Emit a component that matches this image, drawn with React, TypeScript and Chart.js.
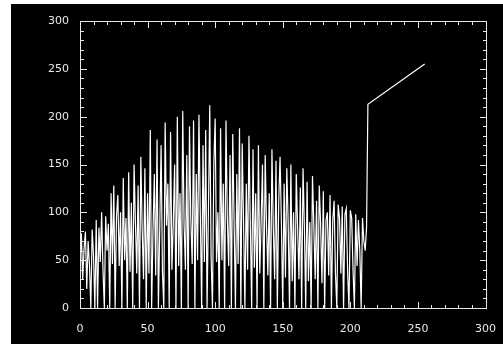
import React, { useEffect, useRef } from "react";
import { Chart, registerables } from "chart.js";

Chart.register(...registerables);

// sample index (x) and value (y) of the plotted signal
const xValues: number[] = [
  0, 1, 2, 3, 4, 5, 6, 7, 8, 9, 10, 11,
  12, 13, 14, 15, 16, 17, 18, 19, 20, 21, 22, 23, 24, 25, 26, 27, 28, 29, 30, 31,
  32, 33, 34, 35, 36, 37, 38, 39, 40, 41, 42, 43, 44, 45, 46, 47, 48, 49, 50, 51,
  52, 53, 54, 55, 56, 57, 58, 59, 60, 61, 62, 63, 64, 65, 66, 67, 68, 69, 70, 71,
  72, 73, 74, 75, 76, 77, 78, 79, 80, 81, 82, 83, 84, 85, 86, 87, 88, 89, 90, 91,
  92, 93, 94, 95, 96, 97, 98, 99, 100, 101, 102, 103, 104, 105, 106, 107, 108, 109, 110, 111,
  112, 113, 114, 115, 116, 117, 118, 119, 120, 121, 122, 123, 124, 125, 126, 127, 128, 129, 130, 131,
  132, 133, 134, 135, 136, 137, 138, 139, 140, 141, 142, 143, 144, 145, 146, 147, 148, 149, 150, 151,
  152, 153, 154, 155, 156, 157, 158, 159, 160, 161, 162, 163, 164, 165, 166, 167, 168, 169, 170, 171,
  172, 173, 174, 175, 176, 177, 178, 179, 180, 181, 182, 183, 184, 185, 186, 187, 188, 189, 190, 191,
  192, 193, 194, 195, 196, 197, 198, 199, 200, 201, 202, 203, 204, 205, 206, 207, 208, 209, 210, 211,
  212, 213, 255,
];

const yValues: number[] = [
  50, 78, 30, 62, 80, 20, 70, 45, 0, 82, 55, 0,
  92, 0, 84, 48, 100, 40, 0, 96, 60, 88, 0, 120,
  46, 128, 0, 96, 118, 44, 100, 0, 136, 50, 94, 0,
  142, 38, 110, 0, 150, 90, 36, 128, 0, 158, 82, 30,
  146, 0, 120, 36, 186, 0, 80, 140, 34, 176, 0, 84,
  170, 38, 0, 194, 86, 130, 0, 184, 40, 88, 150, 0,
  200, 44, 120, 0, 206, 88, 40, 160, 0, 190, 92, 46,
  196, 0, 140, 50, 202, 98, 0, 170, 48, 186, 0, 100,
  212, 52, 0, 150, 198, 48, 100, 0, 188, 50, 130, 0,
  196, 94, 44, 160, 0, 182, 92, 0, 140, 46, 188, 0,
  172, 90, 0, 130, 40, 180, 88, 0, 166, 42, 120, 0,
  170, 36, 90, 150, 0, 160, 86, 34, 120, 0, 166, 84,
  30, 154, 0, 110, 158, 88, 0, 130, 32, 146, 90, 0,
  150, 28, 100, 0, 140, 84, 30, 126, 0, 146, 86, 0,
  132, 28, 90, 0, 138, 86, 30, 112, 0, 128, 88, 26,
  122, 0, 92, 100, 34, 118, 0, 92, 112, 36, 0, 108,
  94, 36, 106, 0, 98, 104, 38, 0, 102, 94, 40, 0,
  98, 44, 92, 60, 0, 94, 70, 60,
  84, 213, 255,
];

const xTickLabels: number[] = [0, 50, 100, 150, 200, 250, 300];
const yTickLabels: number[] = [0, 50, 100, 150, 200, 250, 300];

const AXIS_COLOR = "#e8e8e8";

const framePlugin = {
  id: "idlFrame",
  afterDraw(chart: any) {
    const { ctx, chartArea: a } = chart;
    const xs = chart.scales["x"];
    const ys = chart.scales["y"];
    const L = Math.round(a.left);
    const R = Math.round(a.right);
    const T = Math.round(a.top);
    const B = Math.round(a.bottom);
    ctx.save();
    ctx.fillStyle = AXIS_COLOR;
    // frame
    ctx.fillRect(L, T, R - L + 1, 1);
    ctx.fillRect(L, B, R - L + 1, 1);
    ctx.fillRect(L, T, 1, B - T + 1);
    ctx.fillRect(R, T, 1, B - T + 1);
    // inward ticks on all four sides
    for (let v = 0; v <= 300; v += 10) {
      const len = v % 50 === 0 ? 6 : 3;
      const px = Math.round(xs.getPixelForValue(v));
      ctx.fillRect(px, B - len, 1, len);
      ctx.fillRect(px, T + 1, 1, len);
      const py = Math.round(ys.getPixelForValue(v));
      ctx.fillRect(L + 1, py, len, 1);
      ctx.fillRect(R - len, py, len, 1);
    }
    ctx.restore();
  },
};

export default function App() {
  const canvasRef = useRef<HTMLCanvasElement | null>(null);

  useEffect(() => {
    document.body.style.margin = "0";
    document.body.style.background = "#ffffff";
    const canvas = canvasRef.current;
    if (!canvas) return;
    const points = xValues.map((x, i) => ({ x, y: yValues[i] }));
    const tickFont = { family: "'DejaVu Sans', sans-serif", size: 11 };
    const chart = new Chart(canvas, {
      type: "line",
      data: {
        datasets: [
          {
            data: points,
            borderColor: "#ffffff",
            borderWidth: 1.2,
            pointRadius: 0,
            tension: 0,
            fill: false,
          },
        ],
      },
      options: {
        responsive: false,
        maintainAspectRatio: false,
        animation: false,
        events: [],
        layout: { padding: { left: 0, right: 13, top: 17, bottom: 0 } },
        plugins: {
          legend: { display: false },
          tooltip: { enabled: false },
          title: { display: false },
        },
        scales: {
          x: {
            type: "linear",
            min: 0,
            max: 300,
            grid: { display: false },
            border: { display: false },
            afterBuildTicks: (s: any) => {
              s.ticks = xTickLabels.map((v) => ({ value: v }));
            },
            afterFit: (s: any) => {
              s.height = 36;
            },
            ticks: {
              color: AXIS_COLOR,
              font: tickFont,
              padding: 7,
              maxRotation: 0,
              autoSkip: false,
            },
          },
          y: {
            type: "linear",
            min: 0,
            max: 300,
            grid: { display: false },
            border: { display: false },
            afterBuildTicks: (s: any) => {
              s.ticks = yTickLabels.map((v) => ({ value: v }));
            },
            afterFit: (s: any) => {
              s.width = 69;
            },
            ticks: {
              color: AXIS_COLOR,
              font: tickFont,
              padding: 3,
              autoSkip: false,
            },
          },
        },
      },
      plugins: [framePlugin],
    });
    return () => chart.destroy();
  }, []);

  return (
    <div style={{ position: "relative", width: 503, height: 344, background: "#ffffff" }}>
      <canvas
        ref={canvasRef}
        width={492}
        height={340}
        style={{ position: "absolute", left: 11, top: 4, width: 492, height: 340, background: "#000000" }}
      />
    </div>
  );
}
